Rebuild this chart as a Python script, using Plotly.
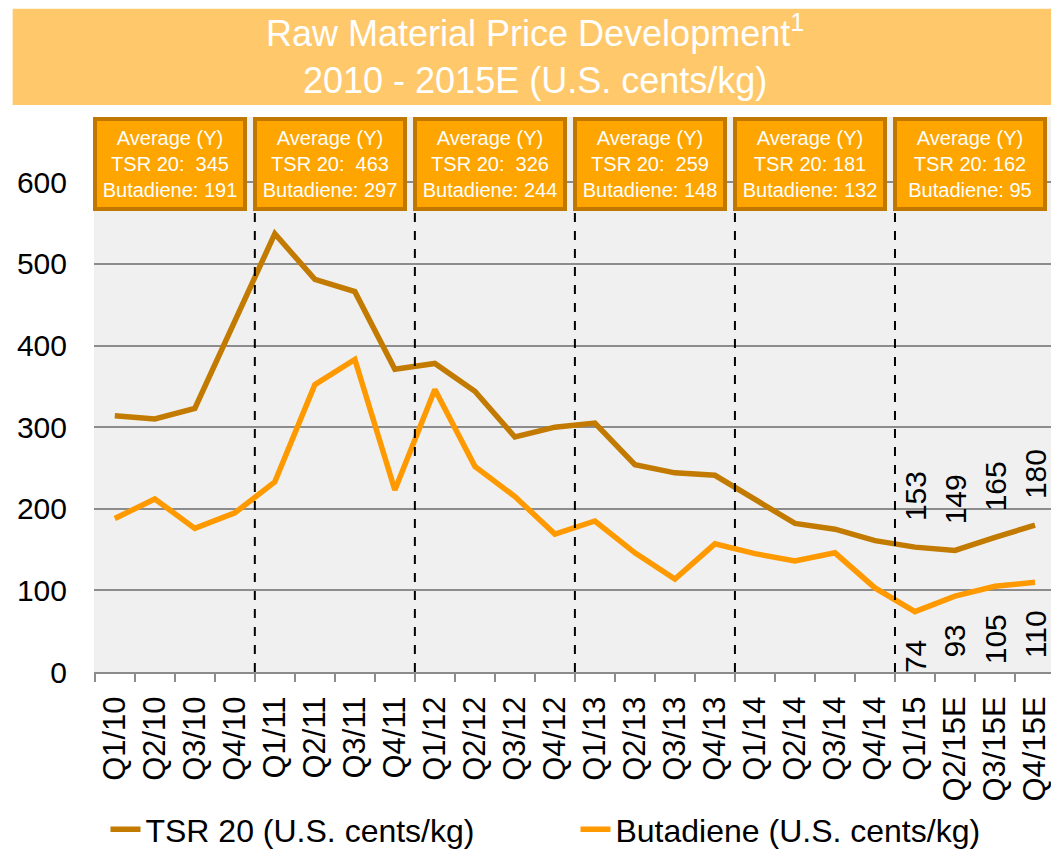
import plotly.graph_objects as go

quarters = ["Q1/10", "Q2/10", "Q3/10", "Q4/10", "Q1/11", "Q2/11", "Q3/11", "Q4/11",
            "Q1/12", "Q2/12", "Q3/12", "Q4/12", "Q1/13", "Q2/13", "Q3/13", "Q4/13",
            "Q1/14", "Q2/14", "Q3/14", "Q4/14", "Q1/15", "Q2/15E", "Q3/15E", "Q4/15E"]
tsr20 = [314, 310, 323, 431, 537, 481, 466, 371, 378, 344, 288, 300,
         305, 254, 244, 241, 211, 182, 175, 161, 153, 149, 165, 180]
butadiene = [188, 212, 176, 195, 233, 352, 383, 223, 346, 252, 215, 169,
             185, 146, 114, 157, 145, 136, 146, 103, 74, 93, 105, 110]
avg_tsr = [345, 463, 326, 259, 181, 162]
avg_but = [191, 297, 244, 148, 132, 95]
labelled_idx = [20, 21, 22, 23]

C_TSR = "#C27A00"
C_BUT = "#FF9900"
C_BOX = "#FFA500"
C_BAND = "#FFC96B"
FONT = "Liberation Sans, Arial, sans-serif"

fig = go.Figure()
fig.add_trace(go.Scatter(x=quarters, y=tsr20, mode="lines", name="TSR 20 (U.S. cents/kg)",
                         line=dict(color=C_TSR, width=5.5)))
fig.add_trace(go.Scatter(x=quarters, y=butadiene, mode="lines", name="Butadiene (U.S. cents/kg)",
                         line=dict(color=C_BUT, width=5.5)))

# dashed year separators
for k in range(1, 6):
    fig.add_shape(type="line", xref="x", yref="paper", x0=4 * k - 0.5, x1=4 * k - 0.5,
                  y0=0, y1=0.835, line=dict(color="black", width=2, dash="dash"))

# average boxes
for k in range(6):
    sp = "\u00a0" if avg_tsr[k] >= 200 else ""
    txt = f"Average (Y)<br>TSR 20: {sp}{avg_tsr[k]}<br>Butadiene: {avg_but[k]}"
    fig.add_annotation(x=4 * k + 1.375, y=1.0, xref="x", yref="paper", text=txt,
                       showarrow=False, xanchor="center", yanchor="top",
                       font=dict(family=FONT, size=20, color="white"),
                       bgcolor=C_BOX, bordercolor="#C07800", borderwidth=4,
                       borderpad=1, width=144, height=84)

# data labels
for i in labelled_idx:
    fig.add_annotation(x=i, y=tsr20[i], text=str(tsr20[i]), textangle=-90,
                       showarrow=False, yanchor="bottom", yshift=24,
                       font=dict(family=FONT, size=30, color="black"))
    fig.add_annotation(x=i, y=butadiene[i], text=str(butadiene[i]), textangle=-90,
                       showarrow=False, yanchor="top", yshift=-26,
                       font=dict(family=FONT, size=30, color="black"))

# title band
fig.add_shape(type="rect", xref="paper", yref="paper", x0=-0.085, x1=1.0,
              y0=1.0216, y1=1.195, fillcolor=C_BAND, line=dict(width=0), layer="below")
fig.add_annotation(xref="paper", yref="paper", x=0.461, y=1.112, showarrow=False,
                   text="Raw Material Price Development<sup>1</sup><br>2010 - 2015E (U.S. cents/kg)",
                   font=dict(family=FONT, size=36, color="white"), xanchor="center", yanchor="middle")

fig.update_layout(
    width=1051, height=857,
    margin=dict(l=94, r=0, t=117, b=185),
    paper_bgcolor="white", plot_bgcolor="#F0F0F0",
    font=dict(family=FONT, color="black"),
    showlegend=True,
    legend=dict(orientation="h", x=0.012, xanchor="left", yref="container", y=0.0,
                yanchor="bottom",
                font=dict(family=FONT, size=32, color="black"),
                entrywidth=425, entrywidthmode="pixels", bgcolor="rgba(0,0,0,0)"),
    xaxis=dict(type="category", range=[-0.52, 23.4], tickson="boundaries",
               ticks="outside", ticklen=8, tickwidth=2, tickcolor="#8C8C8C",
               showline=True, linecolor="#8C8C8C", linewidth=2, showgrid=False,
               ticklabelstandoff=10, automargin=False,
               tickangle=-90, tickfont=dict(family=FONT, size=31, color="black")),
    yaxis=dict(range=[0, 680], tickvals=[0, 100, 200, 300, 400, 500, 600],
               showgrid=True, gridcolor="#8C8C8C", gridwidth=2, zeroline=False,
               showline=False, ticks="", ticklabelstandoff=26, automargin=False,
               tickfont=dict(family=FONT, size=30, color="black")),
)

fig.write_html("out.html", config={"displayModeBar": False},
               post_script="document.body.style.margin='0';document.body.style.overflow='hidden';")
